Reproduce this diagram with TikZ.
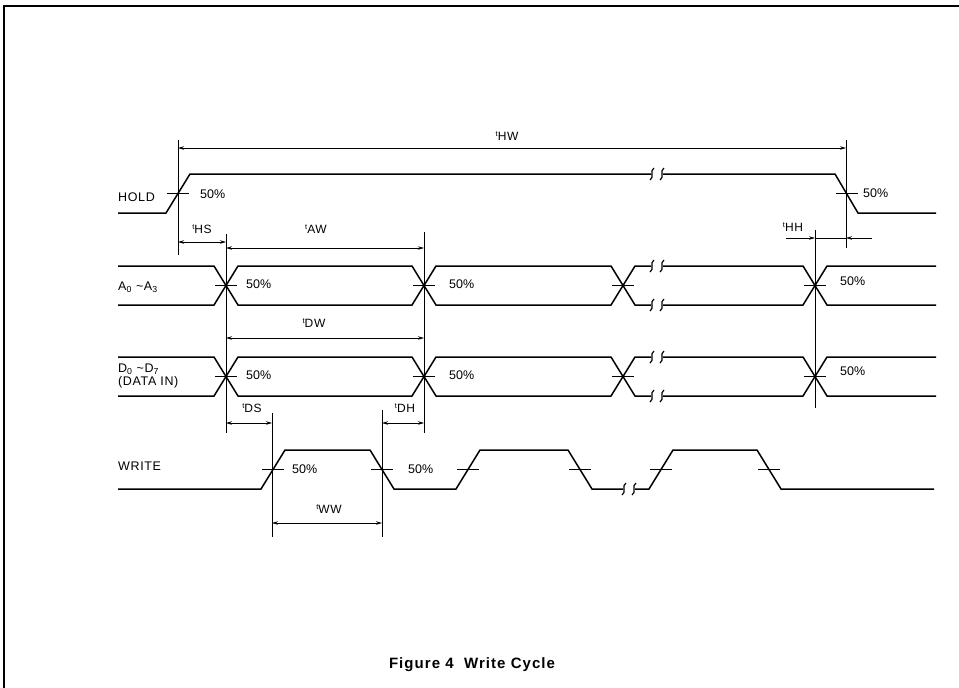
\documentclass[tikz,border=0pt]{standalone}
\usepackage{fontspec}
\setmainfont{Liberation Sans}
\newfontfamily\capfont[LetterSpace=7]{Liberation Sans}
\newfontfamily\namefont[LetterSpace=5]{Liberation Sans}
\usetikzlibrary{calc, positioning, arrows.meta}

% timing label with small raised t
\newcommand\tsym[1]{\raisebox{.65ex}{\fontsize{7.5}{7.5}\selectfont t}#1}
% break mark on a signal line
\newcommand\brkmark[2]{\draw[line width=1.2pt] ({#1+2},{#2-6}) .. controls ({#1-3},{#2-3}) and ({#1+3},{#2+3}) .. ({#1-2},{#2+6});}
% 50% tick on an edge
\newcommand\xtick[2]{\draw[tick] ({#1-11},#2) -- ({#1+11},#2);}

\begin{document}
\begin{tikzpicture}[x=1pt, y=-1pt, font=\fontsize{12.5}{13}\selectfont,
  sig/.style={line width=1.5pt, line join=miter},
  tick/.style={line width=1pt},
  dim/.style={line width=0.8pt},
  dimarr/.style={line width=0.8pt, {Stealth[length=6pt,width=3.5pt]}-{Stealth[length=6pt,width=3.5pt]}},
  lbl/.style={anchor=west, inner sep=0pt},
  namelbl/.style={anchor=west, inner sep=0pt, font=\namefont\fontsize{12.5}{13}\selectfont},
  tlbl/.style={inner sep=0pt, font=\namefont\fontsize{12}{13}\selectfont}]

  \useasboundingbox (0,0) rectangle (959,688);

  % Frame
  \draw[line width=2pt] (4,688) -- (4,6) -- (959,6);

  % Signal names
  \node[namelbl] (holdname) at (118,197) {HOLD};
  \node[namelbl] (addrname) at (118,287) {A\textsubscript{0} \textasciitilde A\textsubscript{3}};
  \node[namelbl, align=left, font=\namefont\fontsize{12.5}{10}\selectfont] (dataname) at (118,376) {D\textsubscript{0} \textasciitilde D\textsubscript{7}\\(DATA IN)};
  \node[namelbl] (wrname) at (118,466) {WRITE};

  % HOLD
  \draw[sig] (118,213) -- (166,213) -- (190,174) -- (651,174);
  \draw[sig] (663,174) -- (835,174) -- (858,213) -- (936,213);
  \brkmark{652}{174} \brkmark{662}{174}
  \xtick{178}{193.5} \xtick{846.5}{193.5}
  \node[lbl] (hold50a) at (200,194) {50\%};
  \node[lbl] (hold50b) at (863,193) {50\%};

  % Address bus
  \draw[sig] (118,266) -- (214,266) -- (238,305) -- (412,305) -- (436,266) -- (611,266) -- (635,305) -- (651,305);
  \draw[sig] (118,305) -- (214,305) -- (238,266) -- (412,266) -- (436,305) -- (611,305) -- (635,266) -- (651,266);
  \draw[sig] (663,266) -- (803,266) -- (827,305) -- (936,305);
  \draw[sig] (663,305) -- (803,305) -- (827,266) -- (936,266);
  \brkmark{652}{266} \brkmark{662}{266} \brkmark{652}{305} \brkmark{662}{305}
  \xtick{226}{285.5} \xtick{424}{285.5} \xtick{623}{285.5} \xtick{815}{285.5}
  \node[lbl] (addr50a) at (246,284) {50\%};
  \node[lbl] (addr50b) at (449,284) {50\%};
  \node[lbl] (addr50c) at (840,281) {50\%};

  % Data bus
  \draw[sig] (118,357) -- (214,357) -- (238,396) -- (412,396) -- (436,357) -- (611,357) -- (635,396) -- (651,396);
  \draw[sig] (118,396) -- (214,396) -- (238,357) -- (412,357) -- (436,396) -- (611,396) -- (635,357) -- (651,357);
  \draw[sig] (663,357) -- (803,357) -- (827,396) -- (936,396);
  \draw[sig] (663,396) -- (803,396) -- (827,357) -- (936,357);
  \brkmark{652}{357} \brkmark{662}{357} \brkmark{652}{396} \brkmark{662}{396}
  \xtick{226}{376.5} \xtick{424}{376.5} \xtick{623}{376.5} \xtick{815}{376.5}
  \node[lbl] (data50a) at (246,375) {50\%};
  \node[lbl] (data50b) at (449,375) {50\%};
  \node[lbl] (data50c) at (840,371) {50\%};

  % WRITE
  \draw[sig] (118,489) -- (261,489) -- (285,450) -- (370,450) -- (394,489) -- (456,489) -- (480,450) -- (568,450) -- (592,489) -- (623,489);
  \draw[sig] (635,489) -- (649,489) -- (673,450) -- (757,450) -- (781,489) -- (934,489);
  \brkmark{624}{489} \brkmark{634}{489}
  \xtick{273}{469.5} \xtick{382}{469.5} \xtick{468}{469.5}
  \xtick{580}{469.5} \xtick{661}{469.5} \xtick{769}{469.5}
  \node[lbl] (wr50a) at (292,469) {50\%};
  \node[lbl] (wr50b) at (408,469) {50\%};

  % Extension lines
  \coordinate (hwL) at (178,148);
  \coordinate (hwR) at (846,148);
  \coordinate (hsL) at (178,242);
  \coordinate (hsR) at (226,242);
  \coordinate (awL) at (226,248);
  \coordinate (awR) at (424,248);
  \coordinate (dwL) at (226,338);
  \coordinate (dwR) at (424,338);
  \coordinate (dsL) at (226,423);
  \coordinate (dsR) at (272,423);
  \coordinate (dhL) at (382,423);
  \coordinate (dhR) at (424,423);
  \coordinate (wwL) at (272,523);
  \coordinate (wwR) at (382,523);
  \coordinate (hhL) at (815,238);
  \coordinate (hhR) at (846,238);
  \coordinate (hhLo) at (786,238);
  \coordinate (hhRo) at (872,238);

  \draw[dim] (178,140) -- (178,255);
  \draw[dim] (846,140) -- (846,248);
  \draw[dim] (226,234) -- (226,433);
  \draw[dim] (424,232) -- (424,433);
  \draw[dim] (272,413) -- (272,537);
  \draw[dim] (382,410) -- (382,537);
  \draw[dim] (815,230) -- (815,408);

  % Timing arrows
  \draw[dimarr] (hwL) -- (hwR);
  \draw[dimarr] (hsL) -- (hsR);
  \draw[dimarr] (awL) -- (awR);
  \draw[dimarr] (dwL) -- (dwR);
  \draw[dimarr] (dsL) -- (dsR);
  \draw[dimarr] (dhL) -- (dhR);
  \draw[dimarr] (wwL) -- (wwR);
  \draw[dim] (hhL) -- (hhR);
  \draw[dim, -{Stealth[length=6pt,width=3.5pt]}] (hhLo) -- (hhL);
  \draw[dim, -{Stealth[length=6pt,width=3.5pt]}] (hhRo) -- (hhR);

  % Timing labels
  \node[tlbl] (thw) at (507,136) {\tsym{HW}};
  \node[tlbl] (ths) at (202,229) {\tsym{HS}};
  \node[tlbl] (taw) at (316,229) {\tsym{AW}};
  \node[tlbl] (tdw) at (314,323) {\tsym{DW}};
  \node[tlbl] (tds) at (252,408) {\tsym{DS}};
  \node[tlbl] (tdh) at (405,408) {\tsym{DH}};
  \node[tlbl] (tww) at (329,509) {\tsym{WW}};
  \node[tlbl] (thh) at (793,227) {\tsym{HH}};

  % Caption
  \node[inner sep=0pt, font=\capfont\fontsize{15}{16}\selectfont\bfseries] (caption) at (472,665) {Figure 4\ \ Write Cycle};
\end{tikzpicture}
\end{document}
